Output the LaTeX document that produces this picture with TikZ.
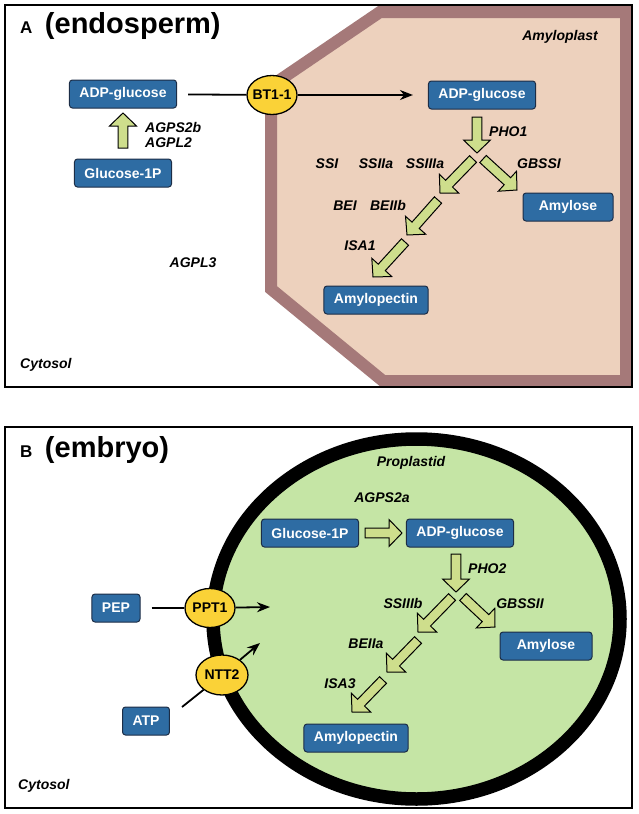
\documentclass[tikz,border=0pt]{standalone}
\usepackage{fontspec}
\setmainfont{Liberation Sans}
\usetikzlibrary{positioning, calc, shapes.geometric, arrows.meta}
\definecolor{boxblue}{RGB}{46,108,163}
\definecolor{boxedge}{RGB}{28,45,70}
\definecolor{carrieryellow}{RGB}{250,210,55}
\definecolor{amylofill}{RGB}{237,209,189}
\definecolor{amyloedge}{RGB}{165,121,121}
\definecolor{proplfill}{RGB}{197,229,165}
\definecolor{fatgreen}{RGB}{206,222,140}
\tikzset{
    x=1pt, y=-1pt,
    on grid,
    >={Stealth[length=13pt,width=10pt]},
    molecule/.style={draw=boxedge, line width=1pt, fill=boxblue, rounded corners=3pt,
        text=white, font=\fontsize{14}{17}\selectfont\bfseries,
        minimum height=28pt, inner xsep=10pt, inner ysep=0pt},
    carrier/.style={ellipse, draw, line width=1.3pt, fill=carrieryellow,
        font=\fontsize{14}{17}\selectfont\bfseries, inner sep=-4pt,
        minimum width=50pt, minimum height=39pt},
    gene/.style={font=\fontsize{14}{17}\selectfont\bfseries\itshape, anchor=base, inner sep=0pt},
    frame/.style={draw, line width=1.8pt},
    fat/.style={draw, line width=1pt, fill=fatgreen, line join=miter},
    transport/.style={line width=1.8pt},
}
% thick green arrow between two points
\newcommand{\fatarrow}[2]{%
    \path #1 coordinate (fa-s) #2 coordinate (fa-t);
    \path ($(fa-t)!13pt!(fa-s)$) coordinate (fa-h);
    \draw[fat] ($(fa-s)!4.8pt!90:(fa-t)$) -- ($(fa-h)!4.8pt!90:(fa-t)$)
        -- ($(fa-h)!13.5pt!90:(fa-t)$) -- (fa-t) -- ($(fa-h)!13.5pt!-90:(fa-t)$)
        -- ($(fa-h)!4.8pt!-90:(fa-t)$) -- ($(fa-s)!4.8pt!-90:(fa-t)$) -- cycle;}

\begin{document}
\begin{tikzpicture}
    \useasboundingbox (0,0) rectangle (638,814);

    % A (endosperm)
    \draw[amyloedge, line width=12pt, fill=amylofill]
        (271,86) -- (380,12) -- (626,12) -- (626,381) -- (383,381) -- (271,289) -- cycle;
    \node[anchor=base west, inner sep=0pt, font=\bfseries] (titleA) at (20,33)
        {\fontsize{17}{20}\selectfont A\hspace{12.5pt}\fontsize{29}{34}\selectfont(endosperm)};

    \node[molecule] (adpC) at (123,94) {ADP-glucose};
    \node[molecule, below=79pt of adpC] (glcC) {Glucose-1P};
    \node[carrier] (bt) at (272,95) {BT1-1};
    \node[molecule, right=210pt of bt] (adpA) {ADP-glucose};
    \node[molecule, minimum width=90pt] (amyloseA) at (568,207) {Amylose};
    \node[molecule] (pectinA) at (376,300) {Amylopectin};

    \node[gene] (amyloplast) at (560,40) {Amyloplast};
    \node[gene, anchor=base west] (agps2b) at (145,132) {AGPS2b};
    \node[gene, anchor=base west] (agpl2) at (145,147) {AGPL2};
    \node[gene, anchor=base west] (pho1) at (489,136) {PHO1};
    \node[gene] (ssi) at (327,168) {SSI};
    \node[gene] (ssiia) at (376,168) {SSIIa};
    \node[gene] (ssiiia) at (425,168) {SSIIIa};
    \node[gene] (gbssi) at (539,168) {GBSSI};
    \node[gene] (bei) at (345,210) {BEI};
    \node[gene] (beiib) at (388,210) {BEIIb};
    \node[gene] (isa1) at (360,250) {ISA1};
    \node[gene] (agpl3) at (193,267) {AGPL3};
    \node[gene, anchor=base west] (cytosolA) at (20,368) {Cytosol};

    \path[transport]
        (adpC) edge[shorten <=11pt] (bt);
    \path[transport, ->]
        (bt) edge[shorten >=15pt] (adpA);

    \fatarrow{(123,148)}{(123,113)}
    \fatarrow{(477,117)}{(477,153)}
    \fatarrow{(473,159)}{(440,193)}
    \fatarrow{(483,159)}{(517,190)}
    \fatarrow{(438,200)}{(407,235)}
    \fatarrow{(405,242)}{(373,277)}

    \draw[frame] (5,5) rectangle (632,387);

    % B (embryo)
    \draw[line width=13.5pt, fill=proplfill] (416.5,619) ellipse [x radius=203.5pt, y radius=180pt];
    \node[anchor=base west, inner sep=0pt, font=\bfseries] (titleB) at (20,457)
        {\fontsize{17}{20}\selectfont B\hspace{12.5pt}\fontsize{29}{34}\selectfont(embryo)};

    \node[molecule] (glcP) at (310,533) {Glucose-1P};
    \node[molecule, right=150pt of glcP] (adpP) {ADP-glucose};
    \node[molecule, minimum width=92pt] (amyloseP) at (546,646) {Amylose};
    \node[molecule] (pectinP) at (356,738) {Amylopectin};
    \node[molecule] (pep) at (116,608) {PEP};
    \node[carrier, right=94pt of pep] (ppt) {PPT1};
    \node[carrier, minimum width=52pt, minimum height=40pt] (ntt) at (222,675) {NTT2};
    \node[molecule] (atp) at (146,721) {ATP};

    \node[gene] (proplastid) at (411,466) {Proplastid};
    \node[gene] (agps2a) at (382,502) {AGPS2a};
    \node[gene, anchor=base west] (pho2) at (468,573) {PHO2};
    \node[gene] (ssiiib) at (403,608) {SSIIIb};
    \node[gene] (gbssii) at (520,608) {GBSSII};
    \node[gene] (beiia) at (366,648) {BEIIa};
    \node[gene] (isa3) at (340,688) {ISA3};
    \node[gene, anchor=base west] (cytosolB) at (18,789) {Cytosol};

    \coordinate (pptin) at (270,607);
    \coordinate (atpout) at (182,707);
    \coordinate (nttin) at (260,643);
    \path[transport]
        (pep) edge[shorten <=11pt] (ppt)
        (atpout) edge (ntt);
    \path[transport, ->]
        (ppt) edge (pptin)
        (ntt) edge (nttin);

    \fatarrow{(365,533)}{(402,533)}
    \fatarrow{(456,554)}{(456,592)}
    \fatarrow{(452,597)}{(418,632)}
    \fatarrow{(463,597)}{(495,627)}
    \fatarrow{(418,640)}{(387,672)}
    \fatarrow{(383,680)}{(352,712)}

    \draw[frame] (5,427) rectangle (632,808);
\end{tikzpicture}
\end{document}
